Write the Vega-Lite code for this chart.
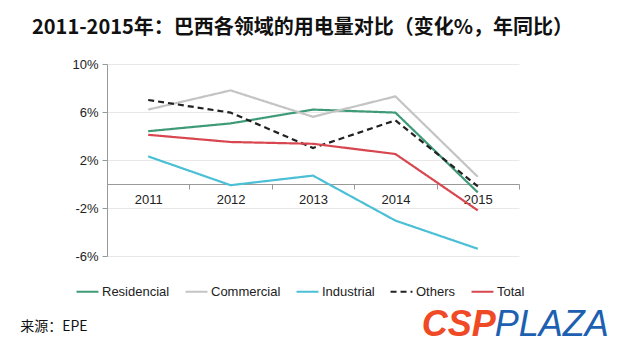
{
  "$schema": "https://vega.github.io/schema/vega-lite/v6.json",
  "width": 412,
  "height": 192,
  "autosize": "none",
  "padding": {"left": 107, "top": 64, "right": 101, "bottom": 96},
  "background": "white",
  "title": {
    "text": "2011-2015年：巴西各领域的用电量对比（变化%，年同比）",
    "anchor": "start",
    "frame": "group",
    "dx": -75,
    "offset": 20,
    "fontSize": 20,
    "font": "Noto Sans CJK SC",
    "fontWeight": "bold",
    "color": "#111111"
  },
  "config": {
    "view": {"stroke": null},
    "font": "Liberation Sans"
  },
  "datasets": {
    "series": [
      {"year": "2011", "series": "Residencial", "value": 4.4},
      {"year": "2012", "series": "Residencial", "value": 5.05},
      {"year": "2013", "series": "Residencial", "value": 6.2},
      {"year": "2014", "series": "Residencial", "value": 5.95},
      {"year": "2015", "series": "Residencial", "value": -0.7},
      {"year": "2011", "series": "Commercial", "value": 6.2},
      {"year": "2012", "series": "Commercial", "value": 7.8},
      {"year": "2013", "series": "Commercial", "value": 5.6},
      {"year": "2014", "series": "Commercial", "value": 7.3},
      {"year": "2015", "series": "Commercial", "value": 0.6},
      {"year": "2011", "series": "Industrial", "value": 2.3},
      {"year": "2012", "series": "Industrial", "value": -0.1},
      {"year": "2013", "series": "Industrial", "value": 0.7},
      {"year": "2014", "series": "Industrial", "value": -3.05},
      {"year": "2015", "series": "Industrial", "value": -5.4},
      {"year": "2011", "series": "Others", "value": 7.0},
      {"year": "2012", "series": "Others", "value": 5.95},
      {"year": "2013", "series": "Others", "value": 3.0},
      {"year": "2014", "series": "Others", "value": 5.3},
      {"year": "2015", "series": "Others", "value": -0.2},
      {"year": "2011", "series": "Total", "value": 4.1},
      {"year": "2012", "series": "Total", "value": 3.5},
      {"year": "2013", "series": "Total", "value": 3.35},
      {"year": "2014", "series": "Total", "value": 2.5},
      {"year": "2015", "series": "Total", "value": -2.2}
    ],
    "notes": [
      {"label": "来源：EPE"}
    ],
    "logo1": [{"label": "CSP"}],
    "logo2": [{"label": "PLAZA"}]
  },
  "layer": [
    {
      "data": {"name": "series"},
      "mark": {"type": "line", "strokeJoin": "miter"},
      "encoding": {
        "x": {
          "field": "year",
          "type": "nominal",
          "bandPosition": 0.5,
          "scale": {"type": "band", "domain": ["2011", "2012", "2013", "2014", "2015"], "paddingInner": 0, "paddingOuter": 0},
          "axis": {
            "title": null,
            "offset": -72,
            "tickBand": "extent",
            "domainColor": "#999999",
            "tickColor": "#999999",
            "tickSize": 5,
            "labelFontSize": 13,
            "labelColor": "#222222",
            "labelPadding": 4,
            "labelAngle": 0,
            "grid": false
          }
        },
        "y": {
          "field": "value",
          "type": "quantitative",
          "scale": {"domain": [-6, 10], "nice": false, "zero": false},
          "axis": {
            "title": null,
            "values": [-6, -2, 2, 6, 10],
            "labelExpr": "datum.value + '%'",
            "domainColor": "#999999",
            "tickColor": "#999999",
            "tickSize": 5,
            "labelFontSize": 13,
            "labelColor": "#222222",
            "labelPadding": 4,
            "gridColor": "#e8e8e8",
            "gridWidth": 1
          }
        },
        "color": {
          "field": "series",
          "type": "nominal",
          "scale": {
            "domain": ["Residencial", "Commercial", "Industrial", "Others", "Total"],
            "range": ["#3f9a77", "#c4c4c4", "#4bbfd5", "#222222", "#d8474f"]
          },
          "legend": {
            "title": null,
            "orient": "none",
            "direction": "horizontal",
            "legendX": -32,
            "legendY": 215,
            "symbolType": "stroke",
            "symbolSize": 480,
            "symbolStrokeWidth": 2.5,
            "labelFontSize": 13,
            "labelColor": "#222222",
            "labelOffset": 2,
            "columnPadding": 11
          }
        },
        "strokeDash": {
          "field": "series",
          "type": "nominal",
          "scale": {
            "domain": ["Residencial", "Commercial", "Industrial", "Others", "Total"],
            "range": [[1, 0], [1, 0], [1, 0], [6, 4], [1, 0]]
          }
        },
        "strokeWidth": {
          "field": "series",
          "type": "nominal",
          "scale": {
            "domain": ["Residencial", "Commercial", "Industrial", "Others", "Total"],
            "range": [2.2, 2.2, 2.2, 2.4, 3]
          },
          "legend": null
        }
      }
    },
    {
      "data": {"name": "notes"},
      "mark": {"type": "text", "align": "left", "baseline": "middle", "dx": -128, "fontSize": 14, "font": "Noto Sans CJK SC", "color": "#111111"},
      "encoding": {
        "x": {"datum": "2011"},
        "y": {"datum": -11.92},
        "text": {"field": "label"}
      }
    },
    {
      "data": {"name": "logo1"},
      "mark": {"type": "text", "align": "left", "baseline": "middle", "dx": -56, "fontSize": 36, "fontWeight": "bold", "fontStyle": "italic", "font": "Liberation Sans", "color": "#ef4a25"},
      "encoding": {
        "x": {"datum": "2015"},
        "y": {"datum": -11.75},
        "text": {"field": "label"}
      }
    },
    {
      "data": {"name": "logo2"},
      "mark": {"type": "text", "align": "left", "baseline": "middle", "dx": 17, "fontSize": 36, "fontStyle": "italic", "font": "Liberation Sans", "color": "#1d5fb0"},
      "encoding": {
        "x": {"datum": "2015"},
        "y": {"datum": -11.75},
        "text": {"field": "label"}
      }
    }
  ]
}
